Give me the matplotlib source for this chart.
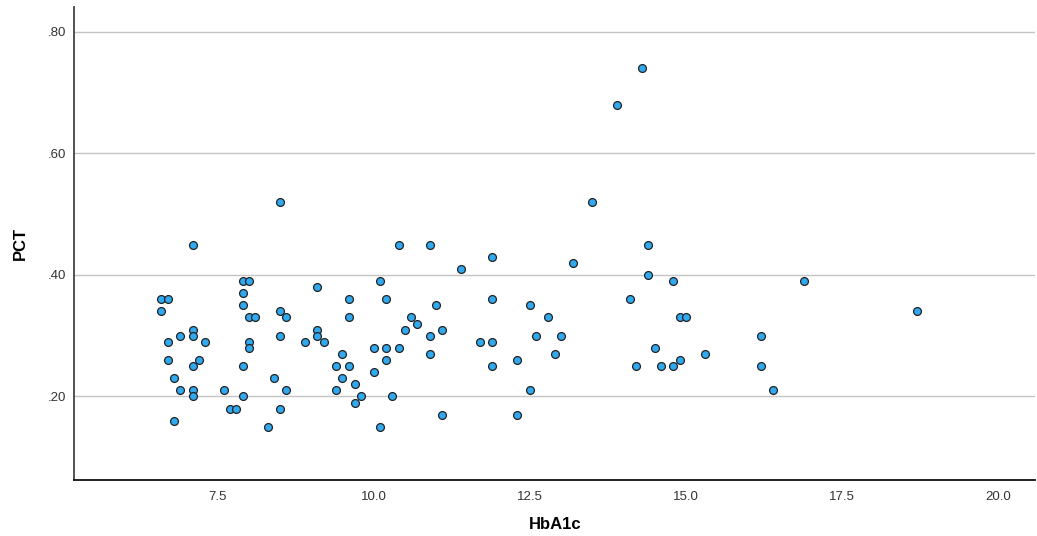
import numpy as np
from matplotlib import pyplot as plt

# HbA1c vs PCT
hba1c = [8.5, 7.1, 7.9, 8.0, 9.1, 6.6, 6.7, 6.6, 7.9, 7.9,
         8.5, 8.6, 8.0, 8.1, 7.1, 7.1, 6.9, 6.7, 7.3, 8.0,
         8.0, 8.5, 8.9, 9.1, 9.1, 9.2, 6.7, 7.2, 7.1, 7.9,
         6.8, 8.4, 6.9, 7.1, 7.1, 7.6, 7.9, 8.6, 7.7, 7.8,
         8.5, 6.8, 8.3,
         10.4, 10.9, 11.9, 11.4, 10.1, 9.6, 10.2, 11.9, 11.0, 9.6,
         10.6, 10.7, 10.5, 11.1, 10.9, 10.9, 11.7, 11.9, 11.9, 12.3,
         12.3, 10.0, 10.2, 10.4, 10.2, 9.5, 9.4, 9.6, 9.5, 10.0,
         9.7, 9.4, 9.8, 10.3, 9.7, 11.1, 10.1,
         13.5, 14.4, 13.2, 14.4, 14.8, 14.1, 12.5, 12.8, 14.9, 15.0,
         12.6, 13.0, 12.9, 14.5, 14.9, 14.2, 14.6, 14.8, 12.5,
         14.3, 13.9,
         16.9, 18.7, 16.2, 15.3, 16.2, 16.4]
pct = [0.52, 0.45, 0.39, 0.39, 0.38, 0.36, 0.36, 0.34, 0.37, 0.35,
       0.34, 0.33, 0.33, 0.33, 0.31, 0.30, 0.30, 0.29, 0.29, 0.29,
       0.28, 0.30, 0.29, 0.31, 0.30, 0.29, 0.26, 0.26, 0.25, 0.25,
       0.23, 0.23, 0.21, 0.21, 0.20, 0.21, 0.20, 0.21, 0.18, 0.18,
       0.18, 0.16, 0.15,
       0.45, 0.45, 0.43, 0.41, 0.39, 0.36, 0.36, 0.36, 0.35, 0.33,
       0.33, 0.32, 0.31, 0.31, 0.30, 0.27, 0.29, 0.29, 0.25, 0.26,
       0.17, 0.28, 0.28, 0.28, 0.26, 0.27, 0.25, 0.25, 0.23, 0.24,
       0.22, 0.21, 0.20, 0.20, 0.19, 0.17, 0.15,
       0.52, 0.45, 0.42, 0.40, 0.39, 0.36, 0.35, 0.33, 0.33, 0.33,
       0.30, 0.30, 0.27, 0.28, 0.26, 0.25, 0.25, 0.25, 0.21,
       0.74, 0.68,
       0.39, 0.34, 0.30, 0.27, 0.25, 0.21]

xticks = [7.5, 10.0, 12.5, 15.0, 17.5, 20.0]
yticks = [0.20, 0.40, 0.60, 0.80]

plt.rcParams['font.family'] = ['Liberation Sans', 'DejaVu Sans']

fig = plt.figure(figsize=(10.37, 5.36), dpi=100)
ax = fig.add_axes([0.0714, 0.105, 0.927, 0.882])

ax.scatter(hba1c, pct, s=32, c='#30A9F0', edgecolors='#222222',
           linewidths=0.9, zorder=3)

ax.set_xlim(5.2, 20.6)
ax.set_ylim(0.063, 0.841)
ax.set_xticks(xticks)
ax.set_xticklabels([f'{t:.1f}' for t in xticks])
ax.set_yticks(yticks)
ax.set_yticklabels([f'{t:.2f}'.lstrip('0') for t in yticks])
ax.tick_params(length=0, labelsize=9.5, colors='#333333', pad=6)
ax.tick_params(axis='x', pad=8)

ax.grid(axis='y', color='#C4C4C4', linewidth=1)
ax.set_axisbelow(True)
for s in ['top', 'right']:
    ax.spines[s].set_visible(False)
ax.spines['left'].set_color('#444444')
ax.spines['bottom'].set_color('#111111')
ax.spines['left'].set_linewidth(1.3)
ax.spines['bottom'].set_linewidth(1.3)

ax.set_xlabel('HbA1c', fontsize=12, fontweight='bold', labelpad=10)
ax.set_ylabel('PCT', fontsize=12, fontweight='bold', labelpad=14)

fig.savefig('out.png', dpi=100)
